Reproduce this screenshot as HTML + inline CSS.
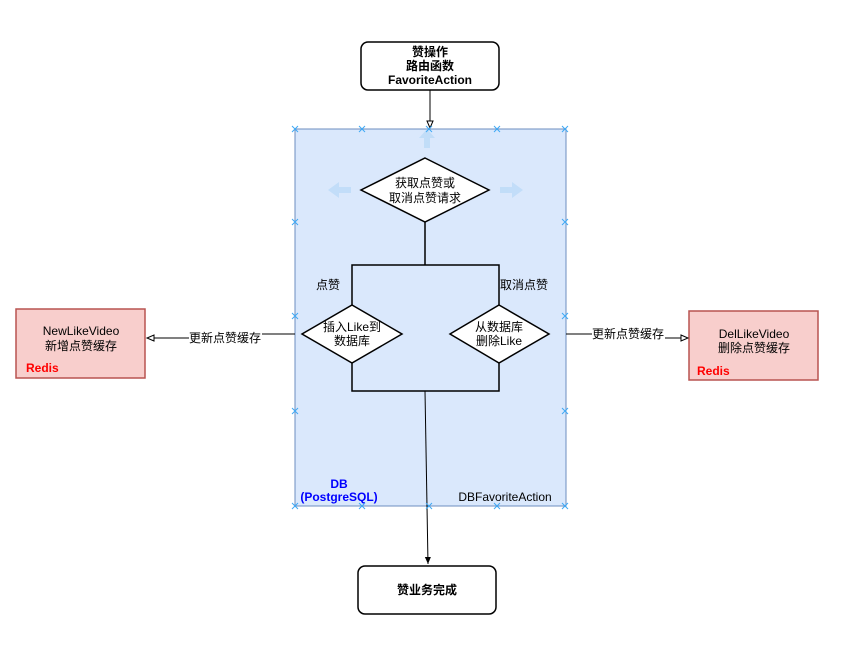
<!DOCTYPE html>
<html><head><meta charset="utf-8"><style>
body{margin:0;background:#fff;width:841px;height:647px;overflow:hidden}
text{font-family:"Liberation Sans","Noto Sans CJK SC",sans-serif;font-size:12px;fill:#000}
</style></head><body>
<svg width="841" height="647" viewBox="0 0 841 647" xmlns="http://www.w3.org/2000/svg">
<defs>
<marker id="oa" markerWidth="10" markerHeight="10" refX="8" refY="4" orient="auto" markerUnits="userSpaceOnUse"><path d="M1,1 L8,4 L1,7 Z" fill="#fff" stroke="#000" stroke-width="1"/></marker>
<marker id="fa" markerWidth="10" markerHeight="10" refX="8" refY="4" orient="auto" markerUnits="userSpaceOnUse"><path d="M1,1 L8,4 L1,7 Z" fill="#000"/></marker>
</defs>
<rect x="361" y="42" width="138" height="48" rx="7" fill="#fff" stroke="#000" stroke-width="1.5"/>
<text x="430" y="56" text-anchor="middle" font-weight="bold">赞操作</text>
<text x="430" y="70" text-anchor="middle" font-weight="bold">路由函数</text>
<text x="430" y="84" text-anchor="middle" font-weight="bold">FavoriteAction</text>
<line x1="430" y1="90" x2="430" y2="128" stroke="#000" marker-end="url(#oa)"/>
<rect x="295" y="129" width="271" height="377" fill="#dae8fc" stroke="#6c8ebf"/>
<g fill="#bfdcf8" opacity="0.9">
<path d="M424,148 h6 v-10 h5 l-8,-9 l-8,9 h5 z"/>
<path d="M351,187 v6 h-12 v5 l-11,-8 l11,-8 v5 z"/>
<path d="M500,187 v6 h12 v5 l11,-8 l-11,-8 v5 z"/>
</g>
<path d="M425,158 L489,190 L425,222 L361,190 Z" fill="#fff" stroke="#000" stroke-width="1.5"/>
<text x="425" y="187" text-anchor="middle">获取点赞或</text>
<text x="425" y="202" text-anchor="middle">取消点赞请求</text>
<path d="M425,222 V265 M352,305 V265 H499 V305" fill="none" stroke="#000" stroke-width="1.5"/>
<path d="M352,305 L402,334 L352,363 L302,334 Z" fill="#fff" stroke="#000" stroke-width="1.5"/>
<text x="352" y="331" text-anchor="middle">插入Like到</text>
<text x="352" y="345" text-anchor="middle">数据库</text>
<path d="M499,305 L549,334 L499,363 L450,334 Z" fill="#fff" stroke="#000" stroke-width="1.5"/>
<text x="499" y="331" text-anchor="middle">从数据库</text>
<text x="499" y="345" text-anchor="middle">删除Like</text>
<text x="328" y="289" text-anchor="middle">点赞</text>
<text x="524" y="289" text-anchor="middle">取消点赞</text>
<path d="M352,363 V391 H499 V363" fill="none" stroke="#000" stroke-width="1.5"/>
<line x1="425" y1="391" x2="428" y2="564" stroke="#000" stroke-width="1" marker-end="url(#fa)"/>
<text x="339" y="488" text-anchor="middle" font-weight="bold" style="fill:#0000ff">DB</text>
<text x="339" y="501" text-anchor="middle" font-weight="bold" style="fill:#0000ff">(PostgreSQL)</text>
<text x="505" y="501" text-anchor="middle">DBFavoriteAction</text>
<g stroke="#3fa9f5" stroke-width="1">
<path d="M292,126l6,6M298,126l-6,6M359,126l6,6M365,126l-6,6M426,126l6,6M432,126l-6,6M494,126l6,6M500,126l-6,6M562,126l6,6M568,126l-6,6"/>
<path d="M292,503l6,6M298,503l-6,6M359,503l6,6M365,503l-6,6M426,503l6,6M432,503l-6,6M494,503l6,6M500,503l-6,6M562,503l6,6M568,503l-6,6"/>
<path d="M292,219l6,6M298,219l-6,6M292,313l6,6M298,313l-6,6M292,408l6,6M298,408l-6,6"/>
<path d="M562,219l6,6M568,219l-6,6M562,313l6,6M568,313l-6,6M562,408l6,6M568,408l-6,6"/>
</g>
<rect x="358" y="566" width="138" height="48" rx="7" fill="#fff" stroke="#000" stroke-width="1.5"/>
<text x="427" y="594" text-anchor="middle" font-weight="bold">赞业务完成</text>
<rect x="16" y="309" width="129" height="69" fill="#f8cecc" stroke="#b85450" stroke-width="1.5"/>
<text x="81" y="335" text-anchor="middle">NewLikeVideo</text>
<text x="81" y="350" text-anchor="middle">新增点赞缓存</text>
<text x="26" y="372" font-weight="bold" style="fill:#ff0000">Redis</text>
<rect x="689" y="311" width="129" height="69" fill="#f8cecc" stroke="#b85450" stroke-width="1.5"/>
<text x="754" y="338" text-anchor="middle">DelLikeVideo</text>
<text x="754" y="352" text-anchor="middle">删除点赞缓存</text>
<text x="697" y="375" font-weight="bold" style="fill:#ff0000">Redis</text>
<path d="M295,334 H262" stroke="#000" fill="none"/>
<line x1="189" y1="338" x2="147" y2="338" stroke="#000" marker-end="url(#oa)"/>
<text x="225" y="342" text-anchor="middle">更新点赞缓存</text>
<path d="M566,334 H592" stroke="#000" fill="none"/>
<line x1="665" y1="338" x2="688" y2="338" stroke="#000" marker-end="url(#oa)"/>
<text x="628" y="338" text-anchor="middle">更新点赞缓存</text>
</svg>
</body></html>
